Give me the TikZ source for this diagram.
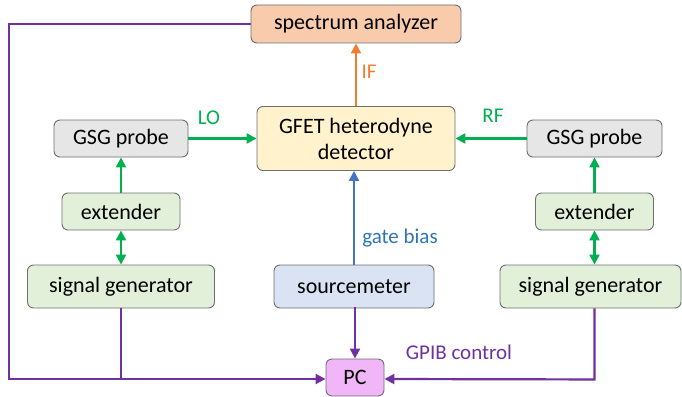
\documentclass[tikz,border=0pt]{standalone}
\usepackage{fontspec}
\setmainfont{Carlito}
\usetikzlibrary{arrows.meta}
\definecolor{boxline}{HTML}{6E6E6E}
\definecolor{fillpeach}{HTML}{F8CBAD}
\definecolor{fillyellow}{HTML}{FFF2CC}
\definecolor{fillgray}{HTML}{E7E6E6}
\definecolor{fillgreen}{HTML}{E2F0D9}
\definecolor{fillblue}{HTML}{DAE3F3}
\definecolor{fillpink}{HTML}{F0B6F8}
\definecolor{lgreen}{HTML}{00B050}
\definecolor{lorange}{HTML}{ED7D31}
\definecolor{lblue}{HTML}{4472C4}
\definecolor{tblue}{HTML}{2E75B6}
\definecolor{lpurple}{HTML}{7030A0}
\begin{document}
\begin{tikzpicture}[x=1pt,y=-1pt,
  box/.style={draw=boxline, line width=0.9pt, rounded corners=6pt, inner sep=0pt,
    align=center, font=\fontsize{22}{26}\selectfont, text=black},
  tip/.style={-{Triangle[length=10pt,width=10pt]}},
  link/.style={line width=2.2pt},
  lbl/.style={font=\fontsize{21}{24}\selectfont, inner sep=0pt}]
\useasboundingbox (0,0) rectangle (682,396);

% instrument boxes
\node[box, fill=fillpeach, minimum width=210pt, minimum height=38pt] (sa) at (356,24) {spectrum analyzer};
\node[box, fill=fillyellow, minimum width=198pt, minimum height=64pt] (det) at (356,138.5) {GFET heterodyne\\detector};
\node[box, fill=fillgray, minimum width=134pt, minimum height=37pt] (gsgl) at (121,138.5) {GSG probe};
\node[box, fill=fillgray, minimum width=135pt, minimum height=37pt] (gsgr) at (594.5,138.5) {GSG probe};
\node[box, fill=fillgreen, minimum width=118pt, minimum height=37pt] (extl) at (121,211.5) {extender};
\node[box, fill=fillgreen, minimum width=118pt, minimum height=37pt] (extr) at (594.5,211.5) {extender};
\node[box, fill=fillgreen, minimum width=187pt, minimum height=43pt] (sgl) at (121,286.5) {signal generator};
\node[box, fill=fillblue, minimum width=160pt, minimum height=43pt] (sm) at (354,286.5) {sourcemeter};
\node[box, fill=fillgreen, minimum width=181pt, minimum height=43pt] (sgr) at (590.5,286.5) {signal generator};
\node[box, fill=fillpink, minimum width=58pt, minimum height=37pt] (pc) at (355,377.5) {PC};

% RF / LO chains
\draw[link, lgreen, tip] (gsgl.east) -- (det.west);
\draw[link, lgreen, tip] (gsgr.west) -- (det.east);
\draw[link, lgreen, tip] (extl.north) -- (gsgl.south);
\draw[link, lgreen, tip] (extr.north) -- (extr.north |- gsgr.south);
\draw[link, lgreen, {Triangle[length=10pt,width=10pt]}-{Triangle[length=10pt,width=10pt]}] (extl.south) -- (extl.south |- sgl.north);
\draw[link, lgreen, {Triangle[length=10pt,width=10pt]}-{Triangle[length=10pt,width=10pt]}] (extr.south) -- (extr.south |- sgr.north);

% IF output and gate bias
\draw[link, lorange, tip] (det.north) -- (sa.south);
\draw[link, lblue, tip] (sm.north) -- (sm.north |- det.south);

% GPIB control bus
\coordinate (busl) at (9,24);
\coordinate (busb) at (9,379);
\draw[link, lpurple, tip] (sa.west) -- (busl) -- (busb) -- (pc.west |- busb);
\draw[link, lpurple] (sgl.south) -- (sgl.south |- busb);
\draw[link, lpurple, tip] (sm.south) -- (sm.south -| pc.north) -- (pc.north);
\draw[link, lpurple, tip] (sgr.south -| extr.south) -- ++(0,71) -- (pc.east |- busb);

% labels
\node[lbl, text=lgreen] (lo) at (209,118) {LO};
\node[lbl, text=lgreen] (rf) at (493,116) {RF};
\node[lbl, text=lorange] (if) at (369,72) {IF};
\node[lbl, text=tblue] (gb) at (400,238) {gate bias};
\node[lbl, text=lpurple] (gpib) at (459,352) {GPIB control};
\end{tikzpicture}
\end{document}
